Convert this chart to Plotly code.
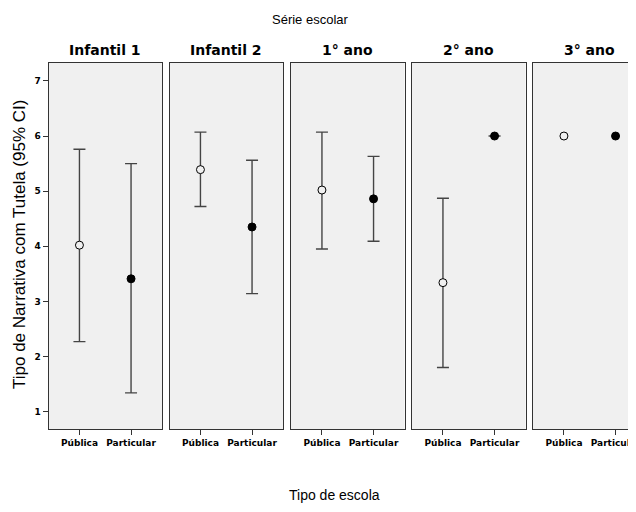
import plotly.graph_objects as go

# ---- data ----
panels = ["Infantil 1", "Infantil 2", "1° ano", "2° ano", "3° ano"]
schools = ["Pública", "Particular"]
pub_mean = [4.02, 5.39, 5.02, 3.34, 6.0]
pub_lo = [2.27, 4.72, 3.95, 1.80, None]
pub_hi = [5.76, 6.07, 6.07, 4.87, None]
part_mean = [3.41, 4.35, 4.86, 6.0, 6.0]
part_lo = [1.34, 3.14, 4.09, 6.0, None]
part_hi = [5.50, 5.56, 5.63, 6.0, None]
y_ticks = [1, 2, 3, 4, 5, 6, 7]

W, H = 636, 512
OFF = 8  # page body margin
FONT = "Liberation Sans, Arial, Helvetica, sans-serif"
BFONT = "DejaVu Sans, Verdana, sans-serif"
BG = "#f0f0f0"

# panel pixel geometry (screen coords minus page margin)
lefts = [x - OFF for x in [48.5, 169.5, 291, 412, 533]]
pw = 113.5
top_px, bot_px = 62.7 - OFF, 429 - OFF
unit = pw / 2.2

fig = go.Figure()

for i, name in enumerate(panels):
    ax = "" if i == 0 else str(i + 1)
    means = [pub_mean[i], part_mean[i]]
    los = [pub_lo[i], part_lo[i]]
    his = [pub_hi[i], part_hi[i]]
    has_err = any(v is not None for v in los)
    plus = [(h - m) if h is not None else float("nan") for h, m in zip(his, means)]
    minus = [(m - l) if l is not None else float("nan") for l, m in zip(los, means)]
    fig.add_trace(go.Scatter(
        x=schools, y=means, mode="markers",
        xaxis="x" + ax, yaxis="y" + ax,
        marker=dict(size=8, color=[BG, "black"], symbol="circle",
                    line=dict(color="black", width=1)),
        error_y=dict(type="data", symmetric=False, array=plus, arrayminus=minus,
                     color="#444", thickness=1.4, width=6, visible=has_err),
        showlegend=False, hoverinfo="x+y",
    ))
    x0 = lefts[i] / W
    x1 = min((lefts[i] + pw) / W, 1.0)
    vis_w = min(pw, W - lefts[i])
    xr = [-0.6, -0.6 + vis_w / unit]
    last = (i == len(panels) - 1)
    fig.layout["xaxis" + ax] = dict(
        domain=[x0, x1], range=xr, type="category",
        showline=True, linecolor="#333", linewidth=1, mirror=True,
        ticks="outside", ticklen=5, tickcolor="#333",
        tickfont=dict(family=BFONT, size=9, color="black", weight="bold"),
        showgrid=False, zeroline=False, fixedrange=True,
        anchor="y" + ax,
    )
    fig.layout["yaxis" + ax] = dict(
        domain=[1 - bot_px / H, 1 - top_px / H],
        range=[0.685, 7.33],
        showline=True, linecolor="#333", linewidth=1, mirror=(not last),
        showgrid=False, zeroline=False, fixedrange=True,
        tickvals=y_ticks if i == 0 else [],
        ticks="outside" if i == 0 else "", ticklen=5, tickcolor="#333",
        showticklabels=(i == 0),
        tickfont=dict(family=BFONT, size=9, color="black", weight="bold"),
        anchor="x" + ax,
    )
    fig.add_annotation(
        x=(lefts[i] + pw / 2) / W, y=1 - (50 - OFF) / H, xref="paper", yref="paper",
        text="<b>" + name + "</b>", showarrow=False,
        font=dict(family=BFONT, size=14, color="black"),
        xanchor="center", yanchor="middle",
    )

fig.add_annotation(x=(310 - OFF) / W, y=1 - (19 - OFF) / H, xref="paper", yref="paper",
                   text="Série escolar", showarrow=False,
                   font=dict(family=FONT, size=13, color="black"),
                   xanchor="center", yanchor="middle")
fig.add_annotation(x=(334.5 - OFF) / W, y=1 - (495 - OFF) / H, xref="paper", yref="paper",
                   text="Tipo de escola", showarrow=False,
                   font=dict(family=FONT, size=14, color="black"),
                   xanchor="center", yanchor="middle")
fig.add_annotation(x=(19 - OFF) / W, y=1 - (245 - OFF) / H, xref="paper", yref="paper",
                   text="Tipo de Narrativa com Tutela (95% CI)", showarrow=False,
                   textangle=-90,
                   font=dict(family=FONT, size=17, color="black"),
                   xanchor="center", yanchor="middle")

fig.update_layout(
    width=W, height=H,
    margin=dict(l=0, r=0, t=0, b=0),
    paper_bgcolor="white", plot_bgcolor=BG,
    font=dict(family=FONT),
)

fig.write_html("out.html")
